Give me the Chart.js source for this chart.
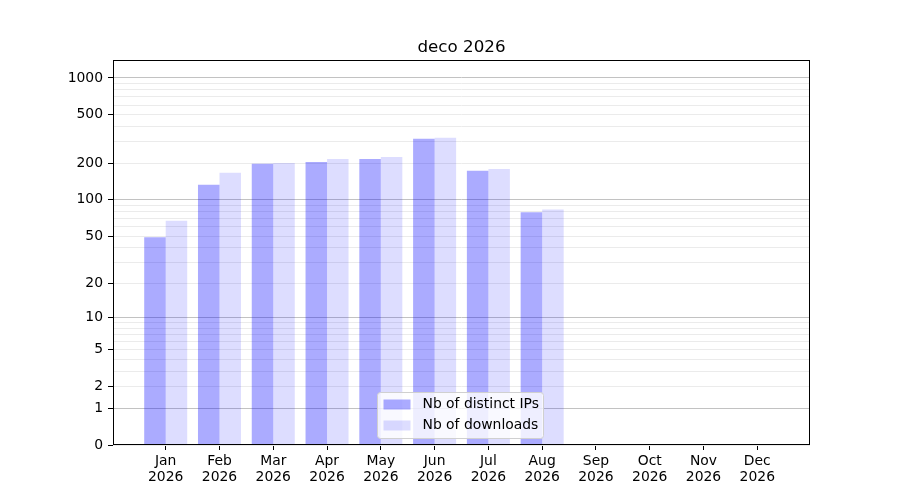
<!DOCTYPE html>
<html>
<head>
<meta charset="utf-8">
<script src="https://cdn.jsdelivr.net/npm/chart.js@4/dist/chart.umd.min.js"></script>
<style>
  html, body { margin: 0; padding: 0; background: #fff; }
  #wrap { width: 900px; height: 500px; }
</style>
</head>
<body>
<div id="wrap"><canvas id="c" width="900" height="500"></canvas></div>
<script>
const TITLE = 'deco 2026';
const MONTHS = ['Jan','Feb','Mar','Apr','May','Jun','Jul','Aug','Sep','Oct','Nov','Dec'];
const YEAR = '2026';
const SERIES_NAMES = ['Nb of distinct IPs', 'Nb of downloads'];
const DISTINCT_IPS = [49, 133, 198, 205, 217, 317, 173, 79];
const DOWNLOADS = [67, 167, 201, 217, 225, 323, 179, 83];
const Y_TICK_LABELS = [0, 1, 2, 5, 10, 20, 50, 100, 200, 500, 1000];
const Y_MAJOR = [1, 10, 100, 1000];
const Y_GRID = [0, 1, 2, 3, 4, 5, 6, 7, 8, 9, 10, 20, 30, 40, 50, 60, 70, 80, 90,
                100, 200, 300, 400, 500, 600, 700, 800, 900, 1000];
const Y_MAX = 1400;

const FONT = "'DejaVu Sans', sans-serif";
const FS = 13.9;
const IP_COLOR = 'rgba(0,0,255,0.33)';
const DL_COLOR = 'rgba(0,0,255,0.135)';

class Log1pScale extends Chart.Scale {
  static id = 'log1p';
  static defaults = { ticks: { callback: (v) => String(v) } };
  parse(raw) {
    if (raw === null || raw === undefined) return null;
    const v = +raw;
    return isFinite(v) ? v : null;
  }
  determineDataLimits() {
    const mm = this.getMinMax(true);
    this.min = (this.options.min !== undefined) ? this.options.min : Math.max(0, mm.min);
    this.max = (this.options.max !== undefined) ? this.options.max : mm.max;
  }
  buildTicks() {
    return Y_GRID.filter(v => v >= this.min && v <= this.max).map(v => ({ value: v }));
  }
  configure() {
    super.configure();
    this._t0 = Math.log10(1 + this.min);
    this._tr = Math.log10(1 + this.max) - this._t0;
  }
  getPixelForValue(v) {
    if (v === undefined || v === null || isNaN(v)) v = this.min;
    return this.getPixelForDecimal((Math.log10(1 + Math.max(0, v)) - this._t0) / this._tr);
  }
  getValueForPixel(p) {
    return Math.pow(10, this._t0 + this.getDecimalForPixel(p) * this._tr) - 1;
  }
  getLabelForValue(v) { return String(v); }
}
Chart.register(Log1pScale);

const framePlugin = {
  id: 'frame',
  afterDatasetsDraw(chart) {
    const a = chart.chartArea, ctx = chart.ctx;
    ctx.save();
    ctx.strokeStyle = '#000';
    ctx.lineWidth = 1;
    const l = Math.round(a.left) + 0.5, t = Math.round(a.top) + 0.5;
    const r = Math.round(a.right) - 0.5, b = Math.round(a.bottom) - 0.5;
    ctx.strokeRect(l, t, r - l, b - t);
    ctx.restore();
  }
};

const legendPlugin = {
  id: 'innerLegend',
  afterDraw(chart) {
    const a = chart.chartArea, ctx = chart.ctx;
    const ds = chart.data.datasets;
    const w = 166, h = 46;
    const x = Math.round((a.left + a.right) / 2 - w / 2) - 1.5;
    const y = Math.round(a.bottom - 7 - h) + 0.5;
    ctx.save();
    ctx.beginPath();
    if (ctx.roundRect) ctx.roundRect(x, y, w, h, 3); else ctx.rect(x, y, w, h);
    ctx.fillStyle = 'rgba(255,255,255,0.8)';
    ctx.fill();
    ctx.strokeStyle = '#d0d0d0';
    ctx.lineWidth = 1;
    ctx.stroke();
    ctx.font = FS + 'px ' + FONT;
    ctx.textBaseline = 'middle';
    ds.forEach((d, i) => {
      const cy = y + 12 + i * 21;
      ctx.fillStyle = d.backgroundColor;
      ctx.fillRect(x + 6, cy - 5, 27, 10);
      ctx.fillStyle = '#000';
      ctx.fillText(d.label, x + 45, cy);
    });
    ctx.restore();
  }
};

new Chart(document.getElementById('c'), {
  type: 'bar',
  data: {
    datasets: [
      { label: SERIES_NAMES[0], data: DISTINCT_IPS.map((v, i) => ({ x: i, y: v })), backgroundColor: IP_COLOR },
      { label: SERIES_NAMES[1], data: DOWNLOADS.map((v, i) => ({ x: i, y: v })), backgroundColor: DL_COLOR }
    ]
  },
  options: {
    responsive: false,
    animation: false,
    events: [],
    categoryPercentage: 0.8,
    barPercentage: 1.0,
    datasets: { bar: { borderWidth: 0, inflateAmount: 0 } },
    layout: { padding: { left: 0, right: 90, top: 0, bottom: 0 } },
    plugins: {
      legend: { display: false },
      tooltip: { enabled: false },
      title: {
        display: true,
        text: TITLE,
        fullSize: false,
        color: '#000',
        font: { family: FONT, size: 16.7, weight: 'normal', lineHeight: 1.2 },
        padding: { top: 38, bottom: 2 }
      }
    },
    scales: {
      x: {
        type: 'linear',
        min: -0.98,
        max: 11.98,
        bounds: 'data',
        offset: false,
        afterBuildTicks: (s) => { s.ticks = MONTHS.map((m, i) => ({ value: i })); },
        afterFit: (s) => { s.height = 55; },
        grid: { offset: false, drawOnChartArea: false, drawTicks: true, tickLength: 5, tickColor: '#000' },
        border: { display: false },
        ticks: {
          autoSkip: false,
          maxRotation: 0,
          padding: 3,
          color: '#000',
          font: { family: FONT, size: FS, lineHeight: 1.15 },
          callback: (v, i) => [MONTHS[i], YEAR]
        }
      },
      y: {
        type: 'log1p',
        min: 0,
        max: Y_MAX,
        afterFit: (s) => { s.width = 113; },
        grid: {
          drawOnChartArea: true,
          drawTicks: true,
          tickLength: 5,
          lineWidth: 1,
          color: (ctx) => ctx.tick && Y_MAJOR.includes(ctx.tick.value) ? '#c2c2c2' : '#ebebeb',
          tickColor: (ctx) => ctx.tick && Y_TICK_LABELS.includes(ctx.tick.value) ? '#000' : 'rgba(0,0,0,0)'
        },
        border: { display: false },
        ticks: {
          autoSkip: false,
          padding: 5,
          color: '#000',
          font: { family: FONT, size: FS },
          callback: (v) => Y_TICK_LABELS.includes(v) ? String(v) : ''
        }
      }
    }
  },
  plugins: [framePlugin, legendPlugin]
});
</script>
</body>
</html>
